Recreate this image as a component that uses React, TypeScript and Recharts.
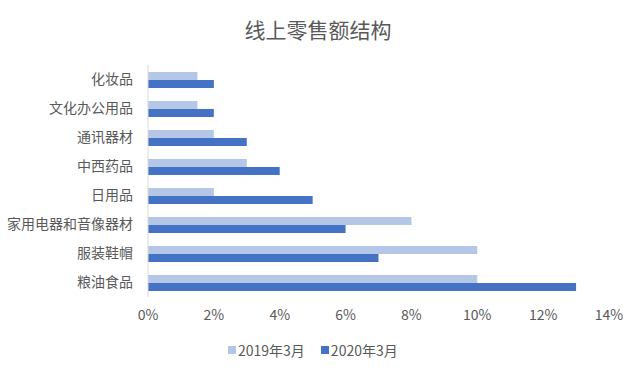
import { BarChart, Bar, XAxis, YAxis } from 'recharts';

const categories = ['化妆品', '文化办公用品', '通讯器材', '中西药品', '日用品', '家用电器和音像器材', '服装鞋帽', '粮油食品'];
const sales2019 = [1.5, 1.5, 2, 3, 2, 8, 10, 10];
const sales2020 = [2, 2, 3, 4, 5, 6, 7, 13];
const xTicks = [0, 2, 4, 6, 8, 10, 12, 14];
const seriesNames = ['2019年3月', '2020年3月'];
const seriesColors = ['#b4c7e7', '#4472c4'];

const FONT = '"Noto Sans CJK SC", "Noto Sans", sans-serif';
const TEXT = '#595959';

export default function App() {
  const data = categories.map((name, i) => ({
    name,
    y2019: sales2019[i],
    y2020: sales2020[i],
  }));

  return (
    <div style={{ position: 'absolute', left: 0, top: 0, width: 641, height: 371, background: '#fff', fontFamily: FONT }}>
      <div
        style={{
          position: 'absolute',
          top: 14,
          left: 0,
          width: 636,
          textAlign: 'center',
          fontSize: 21,
          color: TEXT,
          lineHeight: '30px',
        }}
      >
        线上零售额结构
      </div>
      <BarChart
        width={641}
        height={371}
        data={data}
        layout="vertical"
        margin={{ top: 65, right: 32, left: 8, bottom: 44 }}
        barSize={8}
        barGap={0}
      >
        <XAxis
          type="number"
          domain={[0, 14]}
          ticks={xTicks}
          tickFormatter={(v: number) => `${v}%`}
          axisLine={false}
          tickLine={false}
          tickSize={0}
          tickMargin={13}
          height={30}
          tick={{ fill: TEXT, fontSize: 14, fontFamily: FONT }}
        />
        <YAxis
          type="category"
          dataKey="name"
          width={140}
          axisLine={{ stroke: '#d9d9d9' }}
          tickLine={false}
          tickSize={0}
          tickMargin={15}
          interval={0}
          tick={{ fill: TEXT, fontSize: 14, fontFamily: FONT }}
        />
        <Bar dataKey="y2019" name={seriesNames[0]} fill={seriesColors[0]} isAnimationActive={false} />
        <Bar dataKey="y2020" name={seriesNames[1]} fill={seriesColors[1]} isAnimationActive={false} />
      </BarChart>
      {/* legend drawn outside the chart so it doesn't eat plot height */}
      <div
        style={{
          position: 'absolute',
          top: 340,
          left: 228,
          display: 'flex',
          gap: 16,
          fontSize: 14,
          color: TEXT,
          lineHeight: '20px',
        }}
      >
        {seriesNames.map((n, i) => (
          <div key={n} style={{ display: 'flex', alignItems: 'center' }}>
            <span style={{ width: 8, height: 8, background: seriesColors[i], marginRight: 2, display: 'inline-block' }} />
            {n}
          </div>
        ))}
      </div>
    </div>
  );
}
